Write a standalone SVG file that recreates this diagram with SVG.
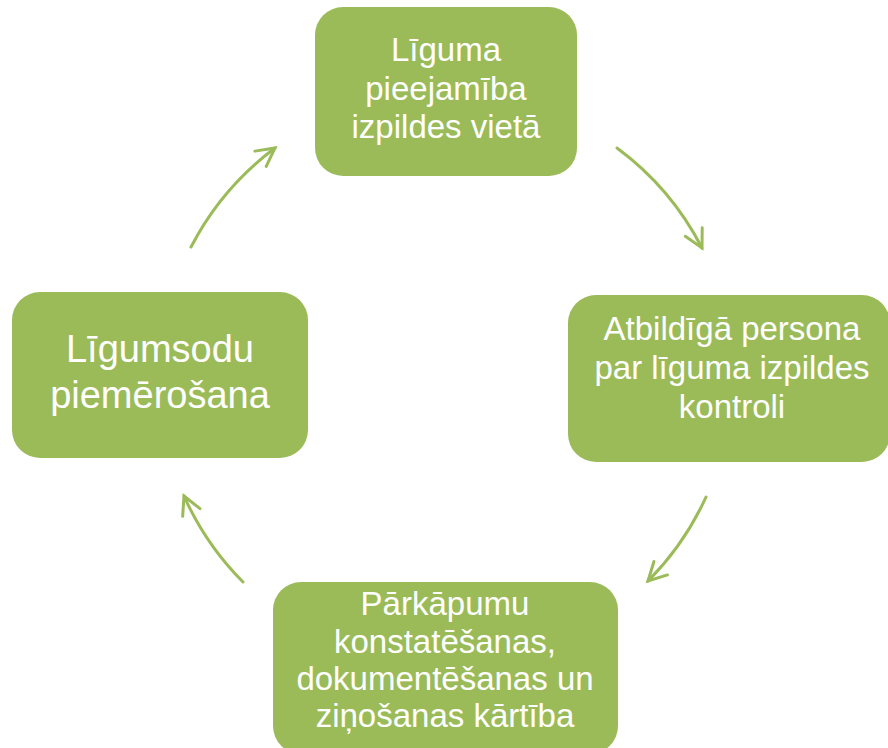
<svg xmlns="http://www.w3.org/2000/svg" width="888" height="748" viewBox="0 0 888 748">
<style>
.box{fill:#9BBB59;stroke:none}
.t{fill:#FFFFFF;font-family:"Liberation Sans","Noto Sans",Arial,sans-serif;text-anchor:middle}
.arc{fill:none;stroke:#9BBB59;stroke-width:3;stroke-linecap:round}
</style>
<defs>
<marker id="ah" viewBox="-22 -12 26 24" refX="0" refY="0" markerWidth="26" markerHeight="24" markerUnits="userSpaceOnUse" orient="auto" overflow="visible">
<path d="M-18,-9.5 L0,0 L-18,9.5" fill="none" stroke="#9BBB59" stroke-width="3" stroke-linecap="round" stroke-linejoin="miter"/>
</marker>
</defs>
<rect width="888" height="748" fill="#FFFFFF"/>
<g id="connectors">
<path class="arc" d="M191,247 A288,288 0 0 1 275,148" marker-end="url(#ah)"/>
<path class="arc" d="M617,148 A288,288 0 0 1 702,248" marker-end="url(#ah)"/>
<path class="arc" d="M706,497 A288,288 0 0 1 648,581" marker-end="url(#ah)"/>
<path class="arc" d="M243,582 A288,288 0 0 1 184,496" marker-end="url(#ah)"/>
</g>
<g id="node-top">
<rect class="box" x="315" y="7" width="262" height="169" rx="28"/>
<text class="t" font-size="33"><tspan x="446" y="61">Līguma</tspan><tspan x="446" y="100">pieejamība</tspan><tspan x="446" y="138">izpildes vietā</tspan></text>
</g>
<g id="node-right">
<rect class="box" x="568" y="295" width="322" height="167" rx="28"/>
<text class="t" font-size="33"><tspan x="732" y="340">Atbildīgā persona</tspan><tspan x="732" y="379">par līguma izpildes</tspan><tspan x="732" y="418">kontroli</tspan></text>
</g>
<g id="node-bottom">
<rect class="box" x="273" y="582" width="345" height="172" rx="28"/>
<text class="t" font-size="33"><tspan x="445" y="615">Pārkāpumu</tspan><tspan x="445" y="653">konstatēšanas,</tspan><tspan x="445" y="690">dokumentēšanas un</tspan><tspan x="445" y="727">ziņošanas kārtība</tspan></text>
</g>
<g id="node-left">
<rect class="box" x="12" y="292" width="296" height="166" rx="28"/>
<text class="t" font-size="38"><tspan x="160" y="362">Līgumsodu</tspan><tspan x="160" y="408">piemērošana</tspan></text>
</g>
</svg>
